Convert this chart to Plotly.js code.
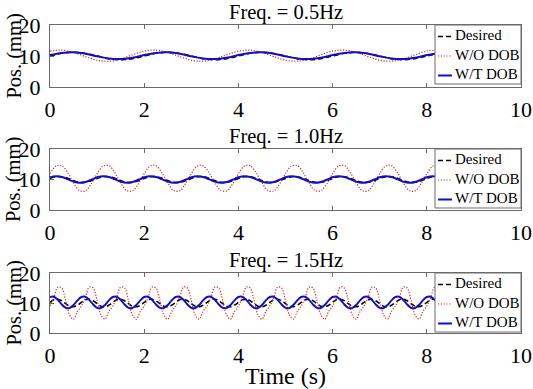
<!DOCTYPE html>
<html>
<head>
<meta charset="utf-8">
<script src="https://cdn.plot.ly/plotly-3.0.1.min.js"></script>
<style>
  html, body { margin: 0; padding: 0; background: #fff; }
  #chart { width: 533px; height: 389px; }
</style>
</head>
<body>
<div id="chart"></div>
<script>
// ---- Data (positions in mm, time in s) ----
const panelTitles = ["Freq. = 0.5Hz", "Freq. = 1.0Hz", "Freq. = 1.5Hz"];
const seriesNames = ["Desired", "W/O DOB", "W/T DOB"];
const xTickVals = [0, 2, 4, 6, 8, 10];
const yTickVals = [0, 10, 20];

// sampling step (s) of the values
const step1 = 0.25, step2 = 0.125, step3 = 0.083333;

// Panel 1: 0.5 Hz
const desired05 = [10,10.85,11.2,10.85,10,9.15,8.8,9.15, 10,10.85,11.2,10.85,10,9.15,8.8,9.15, 10,10.85,11.2,10.85,10,9.15,8.8,9.15, 10,10.85,11.2,10.85,10,9.15,8.8,9.15, 10,10.85];
const woDob05   = [11.56,11.88,11.16,9.82,8.64,8.32,9.04,10.38, 11.56,11.88,11.16,9.82,8.64,8.32,9.04,10.38, 11.56,11.88,11.16,9.82,8.64,8.32,9.04,10.38, 11.56,11.88,11.16,9.82,8.64,8.32,9.04,10.38, 11.56,11.88];
const wtDob05   = [10.29,11.0,11.18,10.73,9.91,9.2,9.02,9.47, 10.29,11.0,11.18,10.73,9.91,9.2,9.02,9.47, 10.29,11.0,11.18,10.73,9.91,9.2,9.02,9.47, 10.29,11.0,11.18,10.73,9.91,9.2,9.02,9.47, 10.29,11.0];

// Panel 2: 1.0 Hz
const desired10 = [10.34,10.91,10.94,10.42,9.66,9.09,9.06,9.58, 10.34,10.91,10.94,10.42,9.66,9.09,9.06,9.58, 10.34,10.91,10.94,10.42,9.66,9.09,9.06,9.58, 10.34,10.91,10.94,10.42,9.66,9.09,9.06,9.58, 10.34,10.91,10.94,10.42,9.66,9.09,9.06,9.58, 10.34,10.91,10.94,10.42,9.66,9.09,9.06,9.58, 10.34,10.91,10.94,10.42,9.66,9.09,9.06,9.58, 10.34,10.91,10.94,10.42,9.66,9.09,9.06,9.58, 10.34,10.91,10.94];
const woDob10   = [11.9,14.39,14.54,12.26,8.9,6.41,6.26,8.54, 11.9,14.39,14.54,12.26,8.9,6.41,6.26,8.54, 11.9,14.39,14.54,12.26,8.9,6.41,6.26,8.54, 11.9,14.39,14.54,12.26,8.9,6.41,6.26,8.54, 11.9,14.39,14.54,12.26,8.9,6.41,6.26,8.54, 11.9,14.39,14.54,12.26,8.9,6.41,6.26,8.54, 11.9,14.39,14.54,12.26,8.9,6.41,6.26,8.54, 11.9,14.39,14.54,12.26,8.9,6.41,6.26,8.54, 11.9,14.39,14.54];
const wtDob10   = [10.71,11.1,10.84,10.1,9.29,8.9,9.16,9.9, 10.71,11.1,10.84,10.1,9.29,8.9,9.16,9.9, 10.71,11.1,10.84,10.1,9.29,8.9,9.16,9.9, 10.71,11.1,10.84,10.1,9.29,8.9,9.16,9.9, 10.71,11.1,10.84,10.1,9.29,8.9,9.16,9.9, 10.71,11.1,10.84,10.1,9.29,8.9,9.16,9.9, 10.71,11.1,10.84,10.1,9.29,8.9,9.16,9.9, 10.71,11.1,10.84,10.1,9.29,8.9,9.16,9.9, 10.71,11.1,10.84];

// Panel 3: 1.5 Hz
const desired15 = [10.23,11.06,11.28,10.75,9.77,8.94,8.72,9.25, 10.23,11.06,11.28,10.75,9.77,8.94,8.72,9.25, 10.23,11.06,11.28,10.75,9.77,8.94,8.72,9.25, 10.23,11.06,11.28,10.75,9.77,8.94,8.72,9.25, 10.23,11.06,11.28,10.75,9.77,8.94,8.72,9.25, 10.23,11.06,11.28,10.75,9.77,8.94,8.72,9.25, 10.23,11.06,11.28,10.75,9.77,8.94,8.72,9.25, 10.23,11.06,11.28,10.75,9.77,8.94,8.72,9.25, 10.23,11.06,11.28,10.75,9.77,8.94,8.72,9.25, 10.23,11.06,11.28,10.75,9.77,8.94,8.72,9.25, 10.23,11.06,11.28,10.75,9.77,8.94,8.72,9.25, 10.23,11.06,11.28,10.75,9.77,8.94,8.72,9.25, 10.23,11.06,11.28,10.75];
const woDob15   = [9.0,11.8,15.3,15.0,10.8,6.0,4.6,7.2, 9.0,11.8,15.3,15.0,10.8,6.0,4.6,7.2, 9.0,11.8,15.3,15.0,10.8,6.0,4.6,7.2, 9.0,11.8,15.3,15.0,10.8,6.0,4.6,7.2, 9.0,11.8,15.3,15.0,10.8,6.0,4.6,7.2, 9.0,11.8,15.3,15.0,10.8,6.0,4.6,7.2, 9.0,11.8,15.3,15.0,10.8,6.0,4.6,7.2, 9.0,11.8,15.3,15.0,10.8,6.0,4.6,7.2, 9.0,11.8,15.3,15.0,10.8,6.0,4.6,7.2, 9.0,11.8,15.3,15.0,10.8,6.0,4.6,7.2, 9.0,11.8,15.3,15.0,10.8,6.0,4.6,7.2, 9.0,11.8,15.3,15.0,10.8,6.0,4.6,7.2, 9.0,11.8,15.3,15.0];
const wtDob15   = [12.01,12.08,11.05,9.52,8.39,8.32,9.35,10.88, 12.01,12.08,11.05,9.52,8.39,8.32,9.35,10.88, 12.01,12.08,11.05,9.52,8.39,8.32,9.35,10.88, 12.01,12.08,11.05,9.52,8.39,8.32,9.35,10.88, 12.01,12.08,11.05,9.52,8.39,8.32,9.35,10.88, 12.01,12.08,11.05,9.52,8.39,8.32,9.35,10.88, 12.01,12.08,11.05,9.52,8.39,8.32,9.35,10.88, 12.01,12.08,11.05,9.52,8.39,8.32,9.35,10.88, 12.01,12.08,11.05,9.52,8.39,8.32,9.35,10.88, 12.01,12.08,11.05,9.52,8.39,8.32,9.35,10.88, 12.01,12.08,11.05,9.52,8.39,8.32,9.35,10.88, 12.01,12.08,11.05,9.52,8.39,8.32,9.35,10.88, 12.01,12.08,11.05,9.52];

// ---- Styling ----
const FONT = 'Liberation Serif';
const AXCOL = '#6a6a6a';
const styles = [
  {color: '#000000', width: 1.5, dash: '5px,3px'},
  {color: '#e02424', width: 1.2, dash: '1.2px,1.6px'},
  {color: '#1010c8', width: 2.0, dash: 'solid'}
];

const panels = [
  {step: step1, vals: [desired05, woDob05, wtDob05]},
  {step: step2, vals: [desired10, woDob10, wtDob10]},
  {step: step3, vals: [desired15, woDob15, wtDob15]}
];

// panel vertical domains (paper fraction)
const domains = [[0.7987, 1.0], [0.3994, 0.5974], [0.0, 0.1948]];

const traces = [];
panels.forEach((p, i) => {
  const ax = i === 0 ? '' : String(i + 1);
  p.vals.forEach((v, j) => {
    traces.push({
      type: 'scatter', mode: 'lines',
      x0: 0, dx: p.step, y: v,
      name: seriesNames[j],
      xaxis: 'x' + ax, yaxis: 'y' + ax,
      showlegend: false,
      line: {color: styles[j].color, width: styles[j].width, dash: styles[j].dash, shape: 'spline', smoothing: 1},
      hoverinfo: 'skip'
    });
  });
});

const layout = {
  width: 533, height: 389,
  margin: {l: 50, r: 12, t: 25, b: 56},
  paper_bgcolor: '#ffffff', plot_bgcolor: '#ffffff',
  font: {family: FONT, size: 22, color: '#000000'},
  showlegend: false,
  annotations: [],
  shapes: []
};

const titleY = [1.042, 0.6396, 0.237];
const yTitleX = -0.0773;
// legend box layout (pixels relative to the top-right corner of each panel)
const boxLeft = -86, boxHeight = 59;
const keyX0 = -83, keyX1 = -69, textShift = -68;
const keyRows = [11.5, 31, 50.5];

domains.forEach((d, i) => {
  const ax = i === 0 ? '' : String(i + 1);
  layout['xaxis' + ax] = {
    domain: [0, 1], anchor: 'y' + ax, range: [0, 10],
    tickvals: xTickVals, ticktext: xTickVals.map(String),
    ticks: 'inside', ticklen: 4, tickcolor: AXCOL, tickwidth: 1,
    showline: true, linecolor: AXCOL, linewidth: 1, mirror: 'ticks',
    showgrid: false, zeroline: false, fixedrange: true,
    tickfont: {family: FONT, size: 22, color: '#000'},
    ticklabelstandoff: 3
  };
  layout['yaxis' + ax] = {
    domain: d, anchor: 'x' + ax, range: [0, 20],
    tickvals: yTickVals, ticktext: yTickVals.map(String),
    ticks: 'inside', ticklen: 4, tickcolor: AXCOL, tickwidth: 1,
    showline: true, linecolor: AXCOL, linewidth: 1, mirror: 'ticks',
    showgrid: false, zeroline: false, fixedrange: true,
    tickfont: {family: FONT, size: 22, color: '#000'},
    ticklabelstandoff: 4
  };
  // y-axis title
  layout.annotations.push({
    text: 'Pos. (mm)', xref: 'paper', yref: 'paper',
    x: yTitleX, y: (d[0] + d[1]) / 2, xanchor: 'center', yanchor: 'middle',
    textangle: -90, showarrow: false, borderpad: 0,
    font: {family: FONT, size: 20.5, color: '#000'}
  });
  // panel title
  layout.annotations.push({
    text: panelTitles[i], xref: 'paper', yref: 'paper',
    x: 0.5, y: titleY[i], xanchor: 'center', yanchor: 'middle',
    showarrow: false, font: {family: FONT, size: 20.5, color: '#000'}
  });
  // legend box
  layout.shapes.push({
    type: 'rect', xref: 'paper', yref: 'paper',
    xsizemode: 'pixel', ysizemode: 'pixel',
    xanchor: 1, yanchor: d[1],
    x0: boxLeft, x1: 0, y0: 0, y1: -boxHeight,
    fillcolor: '#ffffff', line: {color: AXCOL, width: 1},
    layer: 'above'
  });
  // legend keys (line samples)
  styles.forEach((s, j) => {
    layout.shapes.push({
      type: 'line', xref: 'paper', yref: 'paper',
      xsizemode: 'pixel', ysizemode: 'pixel',
      xanchor: 1, yanchor: d[1],
      x0: keyX0, x1: keyX1, y0: -keyRows[j], y1: -keyRows[j],
      line: {color: s.color, width: s.width, dash: s.dash},
      layer: 'above'
    });
  });
  // legend labels
  layout.annotations.push({
    text: seriesNames.join('<br>'),
    xref: 'paper', yref: 'paper', x: 1, y: d[1],
    xshift: textShift, xanchor: 'left', yanchor: 'top', align: 'left',
    showarrow: false, borderpad: 1,
    font: {family: FONT, size: 15, color: '#000'}
  });
});

layout.xaxis3.title = {text: 'Time (s)', font: {family: FONT, size: 24, color: '#000'}, standoff: 6};

Plotly.newPlot('chart', traces, layout, {staticPlot: true, displayModeBar: false});
</script>
</body>
</html>
